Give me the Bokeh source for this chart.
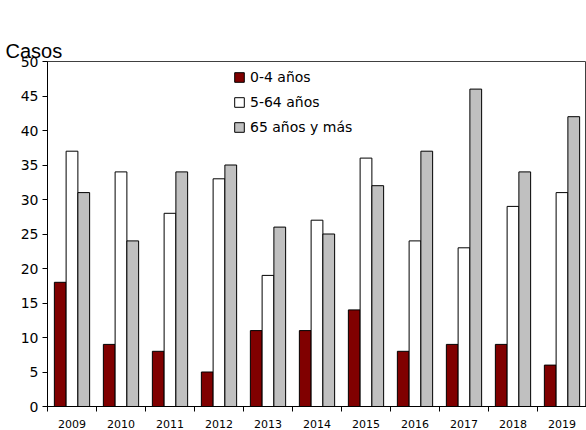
from bokeh.plotting import figure
from bokeh.models import Range1d, FixedTicker, Legend, LegendItem, ColumnDataSource, LinearAxis
from bokeh.embed import file_html
from bokeh.resources import INLINE

years = ["2009", "2010", "2011", "2012", "2013", "2014", "2015", "2016", "2017", "2018", "2019"]
age_0_4 = [18, 9, 8, 5, 11, 11, 14, 8, 9, 9, 6]
age_5_64 = [37, 34, 28, 33, 19, 27, 36, 24, 23, 29, 31]
age_65 = [31, 24, 34, 35, 26, 25, 32, 37, 46, 34, 42]
series_names = ["0-4 años", "5-64 años", "65 años y más"]
series_colors = ["#800000", "#ffffff", "#c0c0c0"]
y_ticks = [0, 5, 10, 15, 20, 25, 30, 35, 40, 45, 50]

centers = [i + 0.5 for i in range(len(years))]
bounds = list(range(len(years) + 1))

p = figure(width=586, height=430, output_backend="svg", toolbar_location=None,
           x_range=Range1d(0, len(years)), y_range=Range1d(0, 50),
           min_border_left=47, min_border_right=0, min_border_top=61, min_border_bottom=24)

# invisible axis above the frame used only as vertical spacing below the title
spacer_axis = LinearAxis(ticker=FixedTicker(ticks=[]), major_tick_out=28, major_tick_in=0,
                         minor_tick_out=0, minor_tick_in=0, axis_line_color=None,
                         major_tick_line_color=None, minor_tick_line_color=None,
                         major_label_standoff=0, major_label_text_font_size="0px")
p.add_layout(spacer_axis, "above")

p.title.text = "Casos"
p.title.text_font = "Liberation Sans"
p.title.text_font_size = "20px"
p.title.text_font_style = "normal"
p.title.align = "left"
p.title.offset = -42
p.title.standoff = 0
p.title.text_color = "#000000"

bw = 0.24
offsets = [-bw, 0, bw]
series = [age_0_4, age_5_64, age_65]
renderers = []
for vals, off, col in zip(series, offsets, series_colors):
    src = ColumnDataSource(dict(x=[c + off for c in centers], top=vals))
    r = p.vbar(x="x", top="top", width=bw, bottom=0, source=src,
               fill_color=col, line_color="#000000", line_width=1)
    renderers.append(r)

p.xgrid.visible = False
p.ygrid.visible = False
p.outline_line_color = "#404040"
p.background_fill_color = "#ffffff"
p.border_fill_color = "#ffffff"

# y axis
p.yaxis.ticker = FixedTicker(ticks=y_ticks)
p.yaxis.major_tick_out = 5
p.yaxis.major_tick_in = 0
p.yaxis.minor_tick_out = 0
p.yaxis.minor_tick_in = 0
p.yaxis.axis_line_color = "#000000"
p.yaxis.major_tick_line_color = "#000000"
p.yaxis.major_label_text_font = "DejaVu Sans"
p.yaxis.major_label_text_font_size = "14px"
p.yaxis.major_label_text_color = "#000000"
p.yaxis.major_label_standoff = 4

# x axis (the bottom one)
xax = p.below[0]
xax.ticker = FixedTicker(ticks=centers, minor_ticks=bounds)
xax.major_label_overrides = {c: y for c, y in zip(centers, years)}
xax.major_tick_out = 0
xax.major_tick_in = 0
xax.minor_tick_out = 5
xax.minor_tick_in = 0
xax.minor_tick_line_color = "#000000"
xax.axis_line_color = "#000000"
xax.major_label_text_font = "DejaVu Sans"
xax.major_label_text_font_size = "11px"
xax.major_label_text_color = "#000000"
xax.major_label_standoff = 8

legend = Legend(items=[LegendItem(label=n, renderers=[r]) for n, r in zip(series_names, renderers)],
                location=(186, 271), orientation="vertical",
                glyph_width=12, glyph_height=12, label_standoff=5, spacing=9,
                padding=4, margin=0, border_line_color=None, background_fill_alpha=0,
                label_text_font="DejaVu Sans", label_text_font_size="14px",
                label_text_color="#000000")
p.add_layout(legend)

open("out.html", "w").write(file_html(p, INLINE))
